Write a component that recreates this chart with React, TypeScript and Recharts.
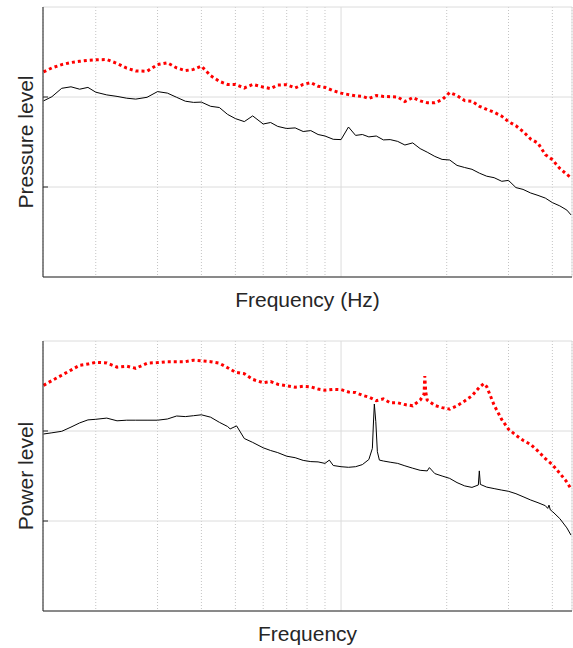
import React from 'react';
import { LineChart, Line, XAxis, YAxis, CartesianGrid, Label } from 'recharts';

// Frequency axis (log scale) and level axis
const freqDomain: [number, number] = [141.5, 4550];
const minorFreqTicks = [200, 300, 400, 500, 600, 700, 800, 900, 2000, 3000, 4000];
const majorFreqTicks = [1000];
const levelDomain: [number, number] = [0, 90];
const levelTicks = [30, 60];

// Top panel (pressure level)
const topFreq = [142, 150, 160, 170, 180, 190, 200, 215, 230, 245, 260, 280, 300, 320, 340, 360, 380, 400, 425, 450, 475, 500, 530, 560, 600, 630, 660, 700, 740, 780, 820, 860, 900, 950, 1000, 1050, 1100, 1150, 1200, 1260, 1320, 1380, 1450, 1520, 1600, 1680, 1760, 1850, 1940, 2040, 2140, 2250, 2360, 2480, 2600, 2730, 2870, 3000, 3150, 3300, 3470, 3640, 3820, 4000, 4200, 4400, 4520];
const topRed = [68.4, 69.7, 70.8, 71.5, 71.9, 72.2, 72.4, 72.5, 71.2, 69.6, 68.7, 68.6, 70.8, 71.4, 69.7, 68.8, 69.2, 70.3, 67.1, 65.2, 64.2, 64.2, 63.0, 64.2, 63.3, 62.8, 64.0, 64.1, 63.0, 64.2, 64.8, 63.6, 63.2, 62.1, 61.3, 60.8, 60.4, 60.2, 59.5, 60.5, 60.2, 60.1, 60.0, 58.5, 59.8, 58.7, 58.1, 58.1, 59.1, 61.5, 60.5, 58.8, 58.6, 56.9, 55.9, 54.9, 53.6, 51.8, 50.4, 48.5, 46.0, 44.6, 40.8, 39.1, 36.2, 34.2, 33.1];
const topBlack = [58.7, 60.1, 62.9, 63.4, 62.6, 63.2, 61.6, 60.7, 60.2, 59.6, 59.3, 59.9, 61.8, 61.3, 59.9, 58.6, 58.2, 58.3, 56.9, 56.5, 54.2, 52.8, 51.8, 53.7, 51.0, 51.5, 50.2, 49.5, 49.7, 48.5, 48.8, 47.5, 47.0, 45.9, 45.8, 50.0, 47.2, 47.5, 46.7, 47.0, 45.7, 45.8, 45.2, 44.0, 44.7, 42.8, 41.6, 40.2, 39.2, 39.0, 37.2, 36.5, 35.9, 34.6, 33.6, 33.1, 31.9, 32.2, 29.8, 29.2, 28.0, 27.2, 26.3, 24.8, 23.7, 22.3, 20.7];

// Bottom panel (power level)
const bottomRedFreq = [142, 150, 160, 170, 180, 190, 200, 215, 230, 245, 260, 280, 300, 320, 340, 360, 380, 400, 425, 450, 475, 500, 530, 560, 600, 630, 660, 700, 740, 780, 820, 860, 900, 950, 1000, 1050, 1100, 1150, 1200, 1260, 1320, 1380, 1450, 1520, 1600, 1680, 1724, 1732, 1743, 1760, 1850, 1940, 2040, 2140, 2250, 2360, 2480, 2550, 2600, 2730, 2870, 3000, 3150, 3300, 3470, 3640, 3820, 4000, 4200, 4400, 4520];
const bottomRed = [75.2, 76.8, 78.6, 80.3, 81.9, 82.3, 82.9, 82.7, 81.3, 81.6, 80.9, 82.6, 82.8, 83.1, 83.1, 83.1, 83.6, 83.4, 83.1, 82.6, 81.1, 79.6, 79.1, 77.2, 76.1, 76.5, 75.6, 75.1, 74.6, 74.9, 74.7, 74.0, 73.6, 73.9, 73.8, 73.0, 72.8, 71.9, 71.3, 70.1, 70.7, 69.4, 69.4, 68.8, 68.4, 70.3, 72.3, 78.3, 73.0, 70.3, 68.5, 67.8, 67.3, 68.4, 70.0, 71.7, 74.6, 75.8, 74.8, 68.6, 63.8, 60.6, 58.6, 56.9, 55.5, 53.3, 50.8, 48.8, 45.9, 43.0, 40.7];
const bottomBlackFreq = [142, 150, 160, 170, 180, 190, 200, 215, 230, 245, 260, 280, 300, 320, 340, 360, 380, 400, 425, 450, 475, 483, 504, 530, 560, 600, 630, 660, 700, 740, 780, 820, 860, 900, 926, 950, 1000, 1050, 1100, 1150, 1200, 1228, 1236, 1244, 1256, 1269, 1286, 1320, 1380, 1450, 1520, 1600, 1680, 1760, 1785, 1850, 1940, 2040, 2140, 2250, 2360, 2461, 2477, 2494, 2600, 2730, 2870, 3000, 3150, 3300, 3470, 3640, 3820, 3880, 3913, 3947, 4000, 4200, 4400, 4520];
const bottomBlack = [59.0, 59.4, 59.9, 61.3, 62.7, 63.7, 63.9, 64.3, 63.4, 63.6, 63.6, 63.6, 63.6, 64.0, 65.0, 64.8, 65.1, 65.4, 64.6, 62.9, 61.5, 60.7, 61.7, 57.5, 56.2, 54.4, 53.5, 52.8, 51.6, 51.1, 50.2, 49.8, 49.7, 49.2, 50.3, 48.5, 48.1, 47.9, 48.1, 48.8, 50.5, 54.2, 62.0, 69.0, 63.1, 53.1, 50.3, 50.0, 49.6, 49.2, 48.4, 47.6, 46.9, 46.7, 47.8, 45.8, 45.0, 44.2, 42.8, 41.7, 41.2, 42.0, 46.7, 42.2, 41.3, 40.8, 40.3, 39.9, 39.1, 38.1, 37.0, 36.1, 35.1, 34.2, 35.3, 33.7, 33.2, 30.8, 27.7, 25.3];

const zip = (fs: number[], vs: number[]) => fs.map((f, i) => ({ f, v: vs[i] }));

const FRAME = '#262626';
const FONT = "'Liberation Sans', Arial, Helvetica, sans-serif";
const W = 573;

type PanelProps = {
  top: number;
  height: number;
  marginTop: number;
  axisHeight: number;
  yLabel: string;
  xLabel: string;
  red: { f: number; v: number }[];
  black: { f: number; v: number }[];
};

function Panel({ top, height, marginTop, axisHeight, yLabel, xLabel, red, black }: PanelProps) {
  const plotTop = marginTop;
  const plotBottom = height - axisHeight;
  const cy = (plotTop + plotBottom) / 2;
  const plotLeft = 43;
  const plotRight = W - 1;
  const cx = (plotLeft + plotRight) / 2;
  const textStyle = { fontFamily: FONT, fontSize: 21, fill: FRAME };
  return (
    <div style={{ position: 'absolute', left: 0, top, width: W, height }}>
      <LineChart width={W} height={height} margin={{ top: marginTop, right: 1, bottom: 0, left: 0 }}>
        <CartesianGrid xAxisId="b" yAxisId="l" horizontal={false} stroke="#c4c4c4" strokeDasharray="1 2" />
        <CartesianGrid xAxisId="t" yAxisId="l" stroke="#dcdcdc" />
        <XAxis
          xAxisId="b"
          dataKey="f"
          type="number"
          scale="log"
          domain={freqDomain}
          allowDataOverflow
          ticks={minorFreqTicks}
          interval={0}
          tickLine={false}
          tickFormatter={() => ''}
          height={axisHeight}
          axisLine={{ stroke: FRAME }}
        >
          <Label
            content={() => (
              <text x={cx} y={plotBottom + 30} textAnchor="middle" style={textStyle}>
                {xLabel}
              </text>
            )}
          />
        </XAxis>
        <XAxis
          xAxisId="t"
          orientation="top"
          dataKey="f"
          type="number"
          scale="log"
          domain={freqDomain}
          allowDataOverflow
          ticks={majorFreqTicks}
          interval={0}
          tickLine={false}
          tickFormatter={() => ''}
          height={0}
          axisLine={{ stroke: FRAME }}
        />
        <YAxis
          yAxisId="l"
          type="number"
          domain={levelDomain}
          ticks={levelTicks}
          interval={0}
          width={43}
          tickSize={-5}
          tickFormatter={() => ''}
          axisLine={{ stroke: FRAME }}
          tickLine={{ stroke: FRAME }}
        >
          <Label
            content={() => (
              <text
                x={33}
                y={cy}
                textAnchor="middle"
                transform={`rotate(-90 33 ${cy})`}
                style={textStyle}
              >
                {yLabel}
              </text>
            )}
          />
        </YAxis>
        <YAxis
          yAxisId="r"
          orientation="right"
          type="number"
          domain={levelDomain}
          ticks={levelTicks}
          interval={0}
          width={0}
          tickSize={-5}
          tickFormatter={() => ''}
          axisLine={{ stroke: FRAME }}
          tickLine={{ stroke: FRAME }}
        />
        <Line
          xAxisId="b"
          yAxisId="l"
          data={black}
          dataKey="v"
          type="linear"
          stroke="#000000"
          strokeWidth={1}
          dot={false}
          isAnimationActive={false}
        />
        <Line
          xAxisId="b"
          yAxisId="l"
          data={red}
          dataKey="v"
          type="linear"
          stroke="#ff0000"
          strokeWidth={3}
          strokeDasharray="3 3"
          dot={false}
          isAnimationActive={false}
        />
      </LineChart>
    </div>
  );
}

export default function App() {
  return (
    <div style={{ position: 'absolute', left: 0, top: 0, width: W, height: 648, background: '#fff' }}>
      <Panel
        top={0}
        height={320}
        marginTop={7}
        axisHeight={43}
        yLabel="Pressure level"
        xLabel="Frequency (Hz)"
        red={zip(topFreq, topRed)}
        black={zip(topFreq, topBlack)}
      />
      <Panel
        top={320}
        height={328}
        marginTop={21}
        axisHeight={37}
        yLabel="Power level"
        xLabel="Frequency"
        red={zip(bottomRedFreq, bottomRed)}
        black={zip(bottomBlackFreq, bottomBlack)}
      />
    </div>
  );
}
